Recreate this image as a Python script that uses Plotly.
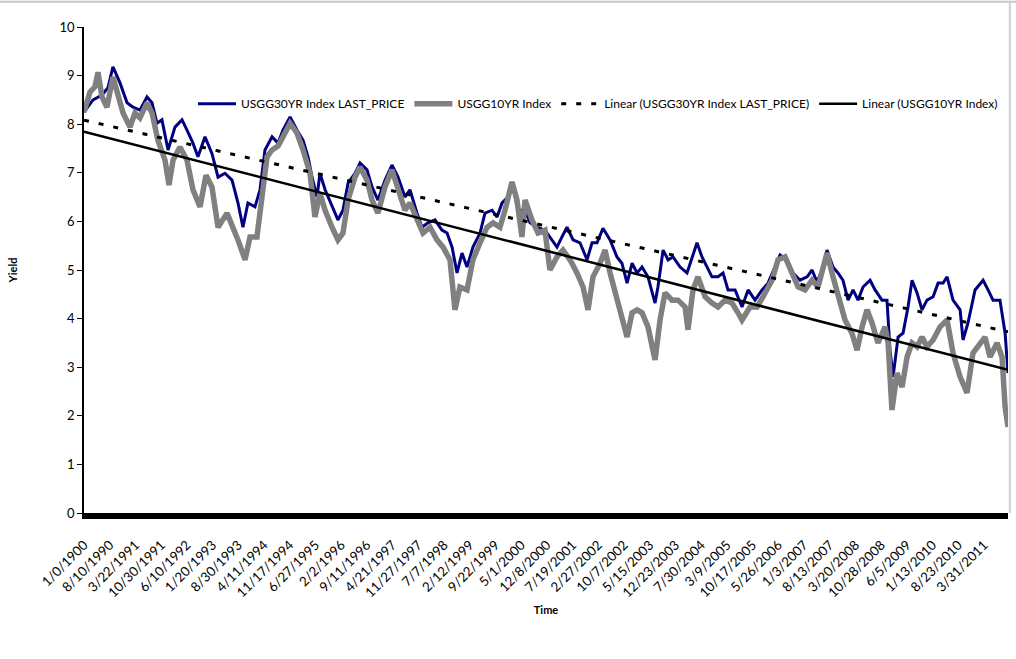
import numpy as np
import plotly.graph_objects as go

# Trading-day index (row number in the sheet) and yield in percent
y30_day = [0, 56, 112, 149, 180, 224, 268, 305, 348, 392, 423, 454, 485, 523, 566, 610, 641, 678,
           709, 753, 796, 834, 877, 921, 958, 989, 1020, 1064, 1095, 1126, 1170, 1207, 1238, 1282,
           1325, 1363, 1394, 1419, 1450, 1468, 1500, 1543, 1580, 1611, 1643, 1686, 1717, 1761,
           1792, 1829, 1873, 1916, 1954, 1997, 2028, 2072, 2103, 2140, 2184, 2227, 2259, 2290,
           2321, 2352, 2383, 2420, 2464, 2495, 2539, 2570, 2601, 2638, 2669, 2700, 2744, 2775,
           2819, 2868, 2912, 2943, 2974, 3005, 3043, 3086, 3130, 3161, 3192, 3229, 3273, 3316,
           3347, 3379, 3410, 3441, 3472, 3509, 3553, 3571, 3603, 3634, 3665, 3709, 3752, 3783,
           3814, 3845, 3876, 3907, 3945, 3976, 4007, 4051, 4094, 4132, 4175, 4219, 4256, 4300,
           4331, 4374, 4412, 4455, 4499, 4530, 4561, 4592, 4623, 4660, 4691, 4722, 4754, 4785,
           4816, 4847, 4891, 4922, 4965, 4996, 5015, 5034, 5065, 5096, 5127, 5152, 5183, 5214,
           5245, 5283, 5314, 5345, 5370, 5407, 5451, 5469, 5500, 5544, 5594, 5625, 5656, 5699,
           5731, 5749]
y30_val = [8.25, 8.50, 8.60, 8.75, 9.18, 8.85, 8.44, 8.35, 8.29, 8.56, 8.44, 8.02, 8.09, 7.47,
           7.94, 8.09, 7.88, 7.61, 7.33, 7.74, 7.40, 6.91, 6.99, 6.85, 6.38, 5.88, 6.38, 6.30,
           6.65, 7.47, 7.74, 7.61, 7.88, 8.15, 7.88, 7.67, 7.33, 6.91, 6.50, 6.99, 6.65, 6.30,
           6.03, 6.23, 6.79, 6.99, 7.20, 7.06, 6.71, 6.44, 6.85, 7.16, 6.91, 6.50, 6.65, 6.17,
           5.88, 5.97, 6.03, 5.82, 5.76, 5.47, 4.94, 5.35, 5.06, 5.47, 5.76, 6.17, 6.23, 6.09,
           6.38, 6.50, 6.71, 6.23, 6.23, 5.97, 5.88, 5.82, 5.62, 5.47, 5.68, 5.88, 5.62, 5.56,
           5.21, 5.56, 5.56, 5.86, 5.62, 5.27, 5.14, 4.73, 5.14, 4.94, 5.06, 4.86, 4.32, 4.65,
           5.41, 5.21, 5.27, 5.06, 4.94, 5.27, 5.56, 5.27, 5.06, 4.86, 4.86, 4.94, 4.59, 4.59,
           4.24, 4.59, 4.38, 4.59, 4.73, 5.06, 5.31, 5.21, 4.94, 4.79, 4.86, 5.00, 4.75, 5.00,
           5.41, 5.06, 4.94, 4.79, 4.38, 4.59, 4.38, 4.65, 4.79, 4.59, 4.38, 4.38, 3.35, 2.80,
           3.62, 3.70, 4.24, 4.79, 4.53, 4.18, 4.38, 4.45, 4.73, 4.73, 4.86, 4.38, 4.18, 3.56,
           3.91, 4.59, 4.79, 4.59, 4.38, 4.38, 3.70, 2.88]

y10_day = [0, 37, 68, 87, 112, 143, 180, 212, 243, 286, 317, 348, 392, 423, 460, 504, 529, 554,
           597, 641, 678, 722, 759, 796, 834, 890, 927, 958, 1002, 1033, 1076, 1108, 1139, 1170,
           1207, 1238, 1282, 1325, 1363, 1406, 1437, 1468, 1500, 1543, 1580, 1611, 1643, 1686,
           1717, 1761, 1792, 1829, 1873, 1916, 1954, 1997, 2028, 2072, 2109, 2153, 2196, 2234,
           2277, 2308, 2339, 2383, 2420, 2464, 2508, 2545, 2588, 2619, 2663, 2694, 2725, 2744,
           2787, 2825, 2868, 2899, 2943, 2980, 3024, 3067, 3105, 3136, 3167, 3211, 3242, 3273,
           3316, 3347, 3379, 3410, 3441, 3472, 3509, 3553, 3584, 3615, 3659, 3696, 3740, 3758,
           3789, 3820, 3864, 3907, 3945, 3988, 4032, 4069, 4094, 4144, 4188, 4225, 4281, 4318,
           4362, 4405, 4443, 4486, 4530, 4567, 4623, 4660, 4691, 4735, 4778, 4810, 4841, 4872,
           4903, 4940, 4984, 5003, 5027, 5058, 5090, 5121, 5152, 5183, 5214, 5245, 5283, 5326,
           5370, 5407, 5451, 5494, 5531, 5575, 5606, 5637, 5681, 5712, 5731, 5749]
y10_val = [8.25, 8.66, 8.77, 9.07, 8.56, 8.35, 8.97, 8.64, 8.23, 7.94, 8.23, 8.13, 8.44, 8.23,
           7.67, 7.26, 6.75, 7.26, 7.53, 7.26, 6.65, 6.30, 6.95, 6.71, 5.88, 6.17, 5.88, 5.62,
           5.21, 5.68, 5.68, 6.44, 7.33, 7.47, 7.55, 7.74, 8.02, 7.82, 7.47, 6.99, 6.09, 6.58,
           6.23, 5.88, 5.62, 5.76, 6.44, 6.91, 7.12, 6.85, 6.44, 6.17, 6.71, 7.06, 6.71, 6.23,
           6.38, 6.03, 5.76, 5.88, 5.62, 5.47, 5.21, 4.18, 4.65, 4.59, 5.21, 5.56, 5.88, 5.97,
           5.88, 6.23, 6.81, 6.44, 5.68, 6.44, 6.03, 5.76, 5.82, 5.00, 5.27, 5.41, 5.21, 4.94,
           4.65, 4.18, 4.86, 5.14, 5.41, 4.94, 4.38, 4.03, 3.62, 4.12, 4.18, 4.12, 3.83, 3.15,
           3.97, 4.53, 4.38, 4.38, 4.24, 3.77, 4.59, 4.86, 4.45, 4.32, 4.24, 4.38, 4.32, 4.12,
           3.97, 4.24, 4.24, 4.45, 4.79, 5.21, 5.27, 4.94, 4.65, 4.59, 4.79, 4.65, 5.35, 4.86,
           4.53, 3.97, 3.70, 3.35, 3.83, 4.18, 3.91, 3.50, 3.83, 3.50, 2.12, 2.88, 2.59, 3.21,
           3.50, 3.42, 3.62, 3.42, 3.56, 3.83, 3.97, 3.29, 2.80, 2.47, 3.29, 3.50, 3.62, 3.21,
           3.50, 3.21, 2.18, 1.77]

# Category labels, shown every 160 rows
date_labels = ["1/0/1900", "8/10/1990", "3/22/1991", "10/30/1991", "6/10/1992", "1/20/1993",
               "8/30/1993", "4/11/1994", "11/17/1994", "6/27/1995", "2/2/1996", "9/11/1996",
               "4/21/1997", "11/27/1997", "7/7/1998", "2/12/1999", "9/22/1999", "5/1/2000",
               "12/8/2000", "7/19/2001", "2/27/2002", "10/7/2002", "5/15/2003", "12/23/2003",
               "7/30/2004", "3/9/2005", "10/17/2005", "5/26/2006", "1/3/2007", "8/13/2007",
               "3/20/2008", "10/28/2008", "6/5/2009", "1/13/2010", "8/23/2010", "3/31/2011"]
label_step = 160
last_row = 5749

FONT = "Lato, 'Liberation Sans', Arial, sans-serif"


def linear_trend(days, vals):
    """Least-squares line through a series, weighted by the span each sample covers."""
    d = np.asarray(days, dtype=float)
    v = np.asarray(vals, dtype=float)
    span = np.gradient(d)
    slope, intercept = np.polyfit(d, v, 1, w=np.sqrt(span))
    xs = np.array([d[0], d[-1]])
    return xs, intercept + slope * xs


t30_x, t30_y = linear_trend(y30_day, y30_val)
t10_x, t10_y = linear_trend(y10_day, y10_val)

fig = go.Figure()
fig.add_trace(go.Scatter(x=y30_day, y=y30_val, mode="lines",
                         name="USGG30YR Index LAST_PRICE",
                         line=dict(color="#000080", width=3)))
fig.add_trace(go.Scatter(x=y10_day, y=y10_val, mode="lines",
                         name="USGG10YR Index",
                         line=dict(color="#808080", width=5.5)))
fig.add_trace(go.Scatter(x=t30_x, y=t30_y, mode="lines",
                         name="Linear (USGG30YR Index LAST_PRICE)",
                         line=dict(color="black", width=3, dash="5px,10px")))
fig.add_trace(go.Scatter(x=t10_x, y=t10_y, mode="lines",
                         name="Linear (USGG10YR Index)",
                         line=dict(color="black", width=2.5)))

tick_pos = [i * label_step for i in range(len(date_labels))]

fig.update_layout(
    width=1016, height=659,
    margin=dict(l=84, r=8, t=27, b=146, autoexpand=False),
    paper_bgcolor="white", plot_bgcolor="white",
    font=dict(family=FONT, color="black", size=12),
    showlegend=True,
    legend=dict(orientation="h", x=0.118, y=0.842, xanchor="left", yanchor="middle",
                bgcolor="rgba(0,0,0,0)", font=dict(size=12), traceorder="normal",
                itemwidth=38),
    xaxis=dict(range=[0, last_row], tickmode="array", tickvals=tick_pos, ticktext=date_labels,
               tickangle=-45, tickfont=dict(size=13.3), ticks="", ticklabelstandoff=13,
               showline=True, linecolor="black", linewidth=6, showgrid=False, zeroline=False,
               automargin=False,
               title=dict(text="<b>Time</b>", font=dict(size=11), standoff=9)),
    yaxis=dict(range=[0, 10], dtick=1, ticks="outside", ticklen=5, tickcolor="black",
               tickwidth=1, showline=True, linecolor="black", linewidth=1.5,
               showgrid=False, zeroline=False, tickfont=dict(size=13), automargin=False,
               title=dict(text="<b>Yield</b>", font=dict(size=11), standoff=40)),
    shapes=[
        dict(type="line", xref="paper", yref="paper", x0=-0.1, x1=1.01, y0=1.052, y1=1.052,
             line=dict(color="#c8c8c8", width=2)),
        dict(type="line", xref="paper", yref="paper", x0=1.002, x1=1.002, y0=1.052, y1=0,
             line=dict(color="#d0d0d0", width=2)),
    ],
)

fig.write_html("out.html")
